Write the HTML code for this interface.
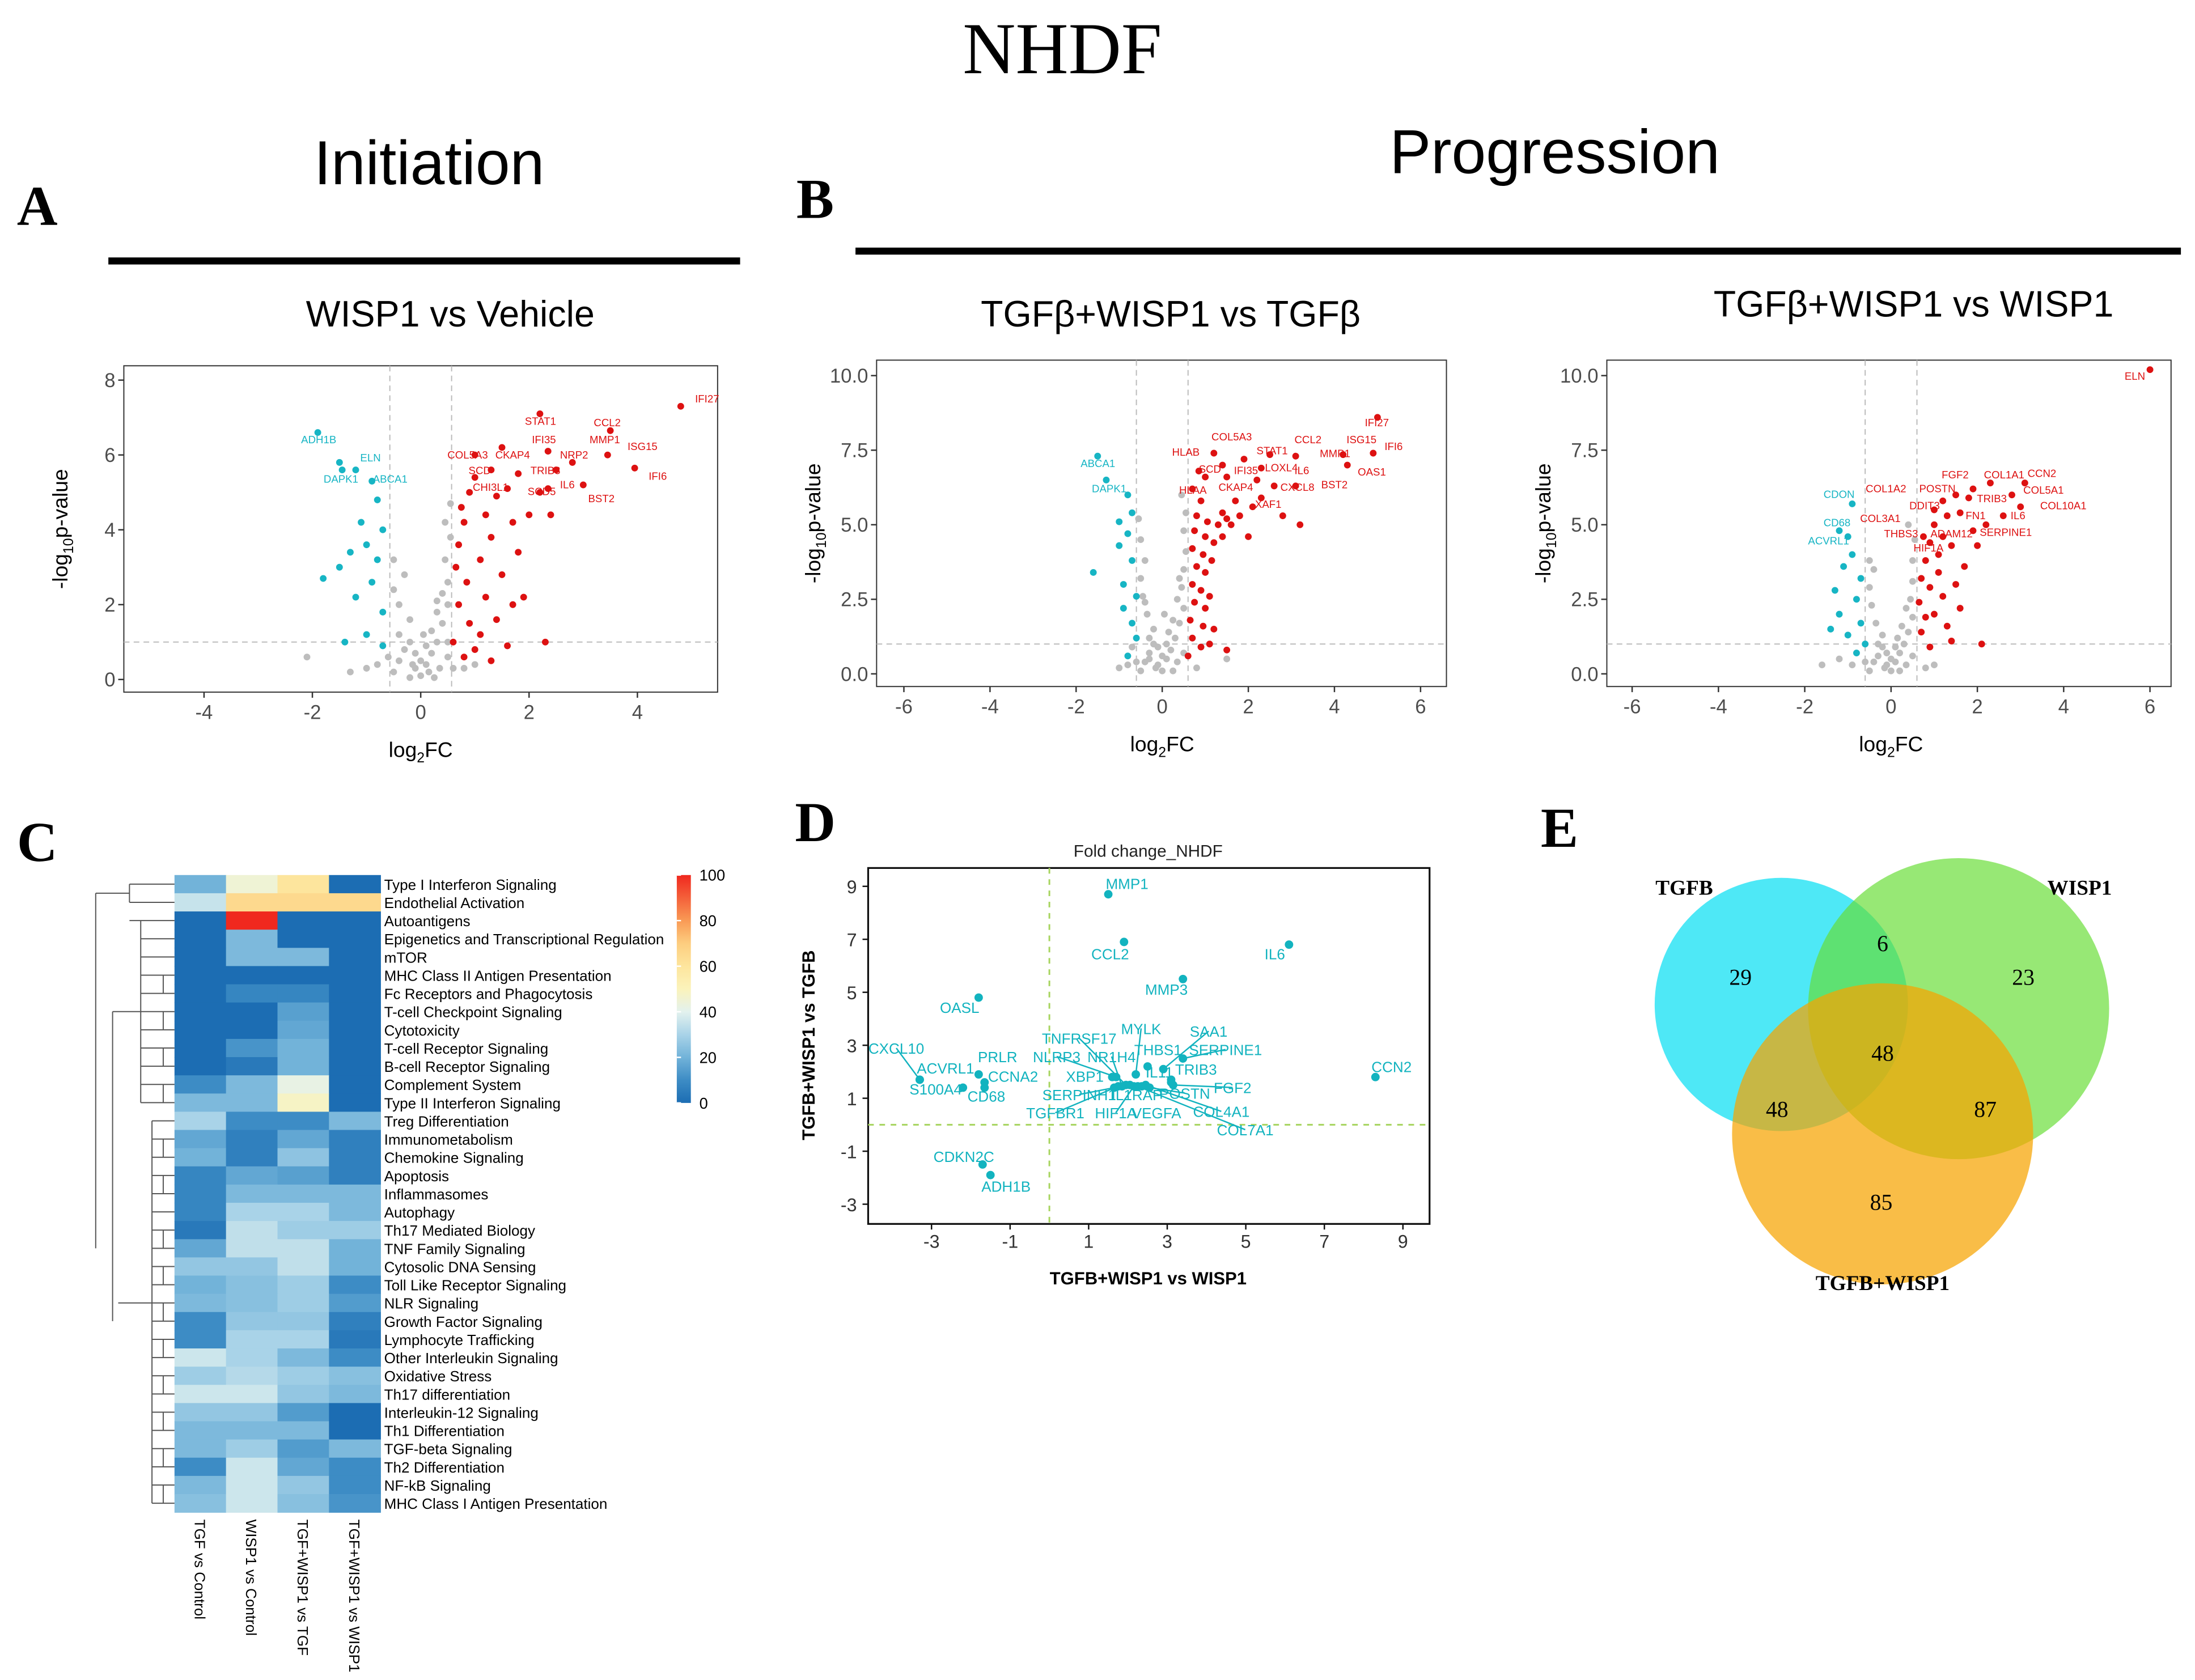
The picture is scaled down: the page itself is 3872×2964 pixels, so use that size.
<!DOCTYPE html>
<html><head><meta charset="utf-8"><style>
html,body{margin:0;padding:0;background:#fff;}
svg{display:block;}
text{font-family:"Liberation Sans",sans-serif;}
.serif{font-family:"Liberation Serif",serif;}
</style></head><body>
<svg id="fig" xmlns="http://www.w3.org/2000/svg" width="3872" height="2964" viewBox="0 0 1560 1194.2">
<rect x="0" y="0" width="1560" height="1195" fill="#fff"/>
<text class="serif" x="755" y="52" font-size="52" text-anchor="middle">NHDF</text>
<text x="305" y="131" font-size="44" text-anchor="middle">Initiation</text>
<text x="1105" y="123" font-size="44" text-anchor="middle">Progression</text>
<text class="serif" x="12" y="160" font-size="40" font-weight="bold">A</text>
<text class="serif" x="566" y="155" font-size="40" font-weight="bold">B</text>
<text class="serif" x="12" y="612" font-size="40" font-weight="bold">C</text>
<text class="serif" x="565" y="598" font-size="40" font-weight="bold">D</text>
<text class="serif" x="1095" y="602" font-size="40" font-weight="bold">E</text>
<rect x="77" y="183" width="449" height="5" fill="#000"/>
<rect x="608" y="176" width="942" height="5" fill="#000"/>
<text x="320" y="232" font-size="26" text-anchor="middle">WISP1 vs Vehicle</text>
<text x="832" y="232" font-size="26" text-anchor="middle">TGFβ+WISP1 vs TGFβ</text>
<text x="1360" y="225" font-size="26" text-anchor="middle">TGFβ+WISP1 vs WISP1</text>
</svg>
<script>
const NS='http://www.w3.org/2000/svg';
const svg=document.getElementById('fig');
function mk(tag,attrs,parent){const e=document.createElementNS(NS,tag);for(const k in attrs)e.setAttribute(k,attrs[k]);(parent||svg).appendChild(e);return e;}

// ---------- Volcano data ----------
const aGray=[[-0.5,0.2],[-0.4,0.5],[-0.3,0.8],[-0.2,1.0],[-0.1,0.3],[0,0.1],[0.1,0.4],[0.2,0.7],[0.3,1.0],[0.4,1.5],[0.5,2.0],[0.5,2.6],[0.45,3.2],[0.55,3.8],[0.4,2.3],[0.3,1.8],[0.2,1.3],[-0.2,1.6],[-0.4,2.0],[-0.5,2.4],[-0.3,2.8],[-0.5,3.2],[-0.4,1.2],[0.1,0.9],[0,0.5],[-0.1,0.7],[0.35,0.3],[0.5,0.6],[-0.6,0.6],[-0.8,0.4],[-1.0,0.3],[-2.1,0.6],[-1.3,0.2],[0.8,0.3],[1.0,0.4],[0.5,1.0],[0.3,2.1],[0.15,0.2],[-0.2,0.05],[0.25,0.05],[0.45,4.2],[0.55,4.7],[0.6,0.3],[-0.15,0.4],[0.05,1.2]];
const aRed=[[4.8,7.3],[3.5,6.65],[2.2,7.1],[3.45,6.0],[3.95,5.65],[2.35,6.1],[3.0,5.2],[2.35,5.1],[0.6,1.0],[0.7,2.0],[0.65,3.0],[0.7,3.6],[0.8,4.2],[0.75,4.6],[0.9,5.0],[1.0,5.4],[0.85,2.6],[0.9,1.5],[1.0,0.8],[1.1,1.2],[1.2,2.2],[1.1,3.2],[1.3,3.8],[1.2,4.4],[1.4,4.9],[1.3,5.6],[1.6,5.1],[1.5,2.8],[1.4,1.6],[1.6,0.9],[1.8,3.4],[1.9,2.2],[2.0,4.4],[2.2,5.0],[1.7,4.2],[1.8,5.5],[1.0,6.0],[1.5,6.2],[2.5,5.6],[2.8,5.8],[0.8,0.6],[1.3,0.5],[2.3,1.0],[1.7,2.0],[2.4,4.4]];
const aBlue=[[-1.9,6.6],[-1.5,5.8],[-1.45,5.6],[-1.2,5.6],[-0.9,5.3],[-0.8,4.8],[-1.1,4.2],[-1.0,3.6],[-1.3,3.4],[-0.8,3.2],[-1.5,3.0],[-0.9,2.6],[-1.2,2.2],[-0.7,1.8],[-1.0,1.2],[-1.4,1.0],[-0.7,0.9],[-1.8,2.7],[-0.7,4.0]];
const aLabels=[['IFI27',494,286,'r'],['STAT1',373,302,'r'],['CCL2',422,303,'r'],['IFI35',378,315,'r'],['MMP1',419,315,'r'],['ISG15',446,320,'r'],['COL5A3',318,326,'r'],['CKAP4',352,326,'r'],['NRP2',398,326,'r'],['SCD',333,337,'r'],['TRIB3',377,337,'r'],['IFI6',461,341,'r'],['IL6',398,347,'r'],['CHI3L1',336,349,'r'],['SCD5',375,352,'r'],['BST2',418,357,'r'],['ADH1B',214,315,'b'],['ELN',256,328,'b'],['DAPK1',230,343,'b'],['ABCA1',265,343,'b']];

const b1Gray=[[-0.5,0.1],[-0.4,0.4],[-0.3,0.7],[-0.2,1.0],[-0.1,0.3],[0,0.1],[0.1,0.5],[0.2,0.8],[0.3,1.2],[0.4,1.7],[0.5,2.2],[0.45,2.9],[0.5,3.5],[0.55,4.1],[0.5,4.8],[0.55,5.4],[0.4,3.2],[0.35,2.5],[0.25,1.8],[-0.2,1.5],[-0.35,2.0],[-0.45,2.6],[-0.5,3.2],[-0.4,3.8],[-0.5,4.5],[-0.55,5.2],[-0.3,1.2],[0.1,1.0],[0,0.6],[-0.1,0.9],[0.35,0.4],[0.5,0.7],[-0.6,0.4],[-0.8,0.3],[-1.0,0.2],[-0.7,0.9],[0.8,0.2],[1.5,0.5],[0.15,1.4],[-0.15,0.2],[0.25,0.1],[-0.4,2.4],[0.45,6.0],[-0.3,0.5],[0.05,2.0]];
const b1Red=[[5.0,8.6],[4.9,7.4],[4.2,7.35],[4.3,7.0],[3.1,7.3],[2.5,7.35],[1.9,7.2],[3.1,6.3],[2.6,6.3],[2.2,6.5],[1.4,7.0],[1.2,7.4],[1.5,6.6],[2.3,6.9],[1.7,5.8],[2.1,5.6],[2.3,5.9],[2.8,5.3],[3.2,5.0],[2.0,4.6],[1.5,5.2],[1.0,6.6],[0.6,0.6],[0.7,1.2],[0.65,1.8],[0.75,2.4],[0.7,3.0],[0.8,3.6],[0.7,4.2],[0.75,4.8],[0.8,5.3],[0.9,5.8],[0.7,6.2],[0.9,0.9],[0.95,1.6],[1.0,2.2],[0.9,2.8],[1.0,3.4],[0.95,4.0],[1.0,4.6],[1.05,5.1],[1.1,1.0],[1.1,2.6],[1.15,3.8],[1.2,4.4],[1.3,5.0],[1.2,1.5],[1.4,5.4],[1.6,5.0],[1.8,5.3],[1.4,4.6],[0.85,6.8],[1.5,0.8]];
const b1Blue=[[-1.5,7.3],[-1.3,6.5],[-0.8,6.0],[-0.7,5.4],[-1.0,5.1],[-0.8,4.7],[-1.0,4.3],[-0.7,3.8],[-1.6,3.4],[-0.9,3.0],[-0.6,2.6],[-0.9,2.2],[-0.7,1.7],[-0.6,1.2],[-0.8,0.6]];
const b1Labels=[['IFI27',970,303,'r'],['COL5A3',861,313,'r'],['CCL2',920,315,'r'],['ISG15',957,315,'r'],['IFI6',984,320,'r'],['HLAB',833,324,'r'],['STAT1',893,323,'r'],['MMP1',938,325,'r'],['SCD',852,336,'r'],['IFI35',877,337,'r'],['LOXL4',899,335,'r'],['IL6',920,337,'r'],['OAS1',965,338,'r'],['HLAA',838,351,'r'],['CKAP4',866,349,'r'],['CXCL8',910,349,'r'],['BST2',939,347,'r'],['XAF1',892,361,'r'],['ABCA1',768,332,'b'],['DAPK1',776,350,'b']];

const b2Gray=[[-0.5,0.1],[-0.4,0.4],[-0.3,0.6],[-0.2,0.9],[-0.1,0.3],[0,0.1],[0.1,0.4],[0.2,0.7],[0.3,1.0],[0.4,1.4],[0.5,1.9],[0.45,2.5],[0.5,3.1],[0.5,3.8],[0.55,4.5],[0.35,2.2],[0.25,1.6],[-0.2,1.3],[-0.35,1.7],[-0.45,2.3],[-0.5,2.9],[-0.4,3.5],[-0.3,1.0],[0.1,0.9],[0,0.5],[-0.1,0.7],[0.35,0.3],[0.5,0.6],[-0.6,0.4],[-0.9,0.3],[-1.2,0.5],[-1.6,0.3],[0.8,0.2],[1.0,0.3],[0.15,1.2],[-0.15,0.2],[0.2,0.1],[-0.5,3.8],[0.4,5.0]];
const b2Red=[[6.0,10.2],[2.3,6.4],[1.9,6.2],[3.1,6.4],[2.8,6.0],[3.0,5.6],[2.6,5.3],[1.9,4.8],[1.6,5.4],[1.8,5.9],[1.5,6.0],[1.2,5.8],[1.3,5.3],[1.0,5.0],[1.2,4.6],[1.4,4.3],[0.9,4.4],[0.8,3.8],[0.7,3.2],[0.9,2.9],[0.65,2.4],[0.8,1.9],[0.7,1.4],[0.9,0.9],[1.1,3.4],[1.2,2.6],[1.0,2.0],[1.3,1.6],[1.5,3.0],[1.6,2.2],[1.4,1.1],[2.0,4.3],[2.2,5.0],[1.7,3.6],[2.1,1.0],[1.1,4.0],[0.75,4.6],[1.0,5.5]];
const b2Blue=[[-0.9,5.7],[-1.2,4.8],[-1.0,4.6],[-0.9,4.0],[-1.1,3.6],[-0.7,3.2],[-1.3,2.8],[-0.8,2.5],[-1.2,2.0],[-0.7,1.7],[-1.0,1.3],[-0.6,1.0],[-0.8,0.7],[-1.4,1.5]];
const b2Labels=[['ELN',1510,270,'r'],['FGF2',1380,340,'r'],['COL1A1',1410,340,'r'],['CCN2',1441,339,'r'],['COL1A2',1326,350,'r'],['POSTN',1364,350,'r'],['COL5A1',1438,351,'r'],['DDIT3',1357,362,'r'],['TRIB3',1405,357,'r'],['COL10A1',1450,362,'r'],['COL3A1',1322,371,'r'],['FN1',1397,369,'r'],['IL6',1429,369,'r'],['THBS3',1339,382,'r'],['ADAM12',1372,382,'r'],['SERPINE1',1407,381,'r'],['HIF1A',1360,392,'r'],['CDON',1296,354,'b'],['CD68',1296,374,'b'],['ACVRL1',1285,387,'b']];

const aXTicks=[-4,-2,0,2,4], aYTicks=[0,2,4,6,8];
const bXTicks=[-6,-4,-2,0,2,4,6], bYTicks=[0,2.5,5,7.5,10];

function volcano(id,cfg,gray,red,blue,labels,xt,yt,fmt){
  const g=mk('g',{});
  
  
  const X=v=>cfg.x0+v*cfg.ux, Y=v=>cfg.y0-v*cfg.uy;
  const box=mk('rect',{x:cfg.bx,y:cfg.by,width:cfg.bw,height:cfg.bh,fill:'#fff',stroke:'#333','stroke-width':0.8},g);
  
  
  [[-cfg.th,0],[cfg.th,0]].forEach(t=>{const l=mk('line',{x1:X(t[0]),x2:X(t[0]),y1:cfg.by,y2:cfg.by+cfg.bh,stroke:'#bbb','stroke-dasharray':'4,3','stroke-width':0.8},g);
    
    });
  const h=mk('line',{x1:cfg.bx,x2:cfg.bx+cfg.bw,y1:Y(1),y2:Y(1),stroke:'#bbb','stroke-dasharray':'4,3','stroke-width':0.8},g);
  
  
  xt.forEach(v=>{mk('line',{x1:X(v),x2:X(v),y1:cfg.by+cfg.bh,y2:cfg.by+cfg.bh+4,stroke:'#333'},g);
    const t=mk('text',{x:X(v),y:cfg.by+cfg.bh+19,'font-size':14,'text-anchor':'middle',fill:'#4d4d4d'},g);t.textContent=v;
    
    });
  yt.forEach(v=>{mk('line',{x1:cfg.bx-4,x2:cfg.bx,y1:Y(v),y2:Y(v),stroke:'#333'},g);
    const t=mk('text',{x:cfg.bx-6,y:Y(v)+5,'font-size':14,'text-anchor':'end',fill:'#4d4d4d'},g);t.textContent=fmt(v);
    
    });
  const draw=(arr,col,name)=>arr.forEach(p=>{const c=mk('circle',{cx:X(p[0]),cy:Y(p[1]),r:2.4,fill:col},g);
    
    });
  draw(gray,'#bdbdbd','gene-point-ns');draw(blue,'#17b5c4','gene-point-down');draw(red,'#dd1111','gene-point-up');
  labels.forEach(L=>{const t=mk('text',{x:L[1],y:L[2],'font-size':7.5,fill:L[3]=='r'?'#dd1111':'#17b5c4'},g);t.textContent=L[0];
    
    });
  const xl=mk('text',{x:cfg.x0,y:cfg.by+cfg.bh+46,'font-size':15,'text-anchor':'middle'},g);
  xl.innerHTML='log<tspan font-size="10" dy="4">2</tspan><tspan dy="-4">FC</tspan>';
  
  
  const yl=mk('text',{x:0,y:0,'font-size':15,'text-anchor':'middle',transform:`translate(${cfg.bx-40},${cfg.by+cfg.bh/2}) rotate(-90)`},g);
  yl.innerHTML='-log<tspan font-size="10" dy="4">10</tspan><tspan dy="-4">p-value</tspan>';
  
  
}
volcano('volcano-a',{x0:299,ux:38.5,y0:483,uy:26.6,bx:88,by:260,bw:422,bh:232,th:0.57},aGray,aRed,aBlue,aLabels,aXTicks,aYTicks,v=>v);
volcano('volcano-b1',{x0:826,ux:30.6,y0:479,uy:21.2,bx:623,by:256,bw:405,bh:232,th:0.6},b1Gray,b1Red,b1Blue,b1Labels,bXTicks,bYTicks,v=>v.toFixed(1));
volcano('volcano-b2',{x0:1344,ux:30.67,y0:479,uy:21.2,bx:1142,by:256,bw:401,bh:232,th:0.6},b2Gray,b2Red,b2Blue,b2Labels,bXTicks,bYTicks,v=>v.toFixed(1));

// ---------- Heatmap ----------
const hmRows=['Type I Interferon Signaling','Endothelial Activation','Autoantigens','Epigenetics and Transcriptional Regulation','mTOR','MHC Class II Antigen Presentation','Fc Receptors and Phagocytosis','T-cell Checkpoint Signaling','Cytotoxicity','T-cell Receptor Signaling','B-cell Receptor Signaling','Complement System','Type II Interferon Signaling','Treg Differentiation','Immunometabolism','Chemokine Signaling','Apoptosis','Inflammasomes','Autophagy','Th17 Mediated Biology','TNF Family Signaling','Cytosolic DNA Sensing','Toll Like Receptor Signaling','NLR Signaling','Growth Factor Signaling','Lymphocyte Trafficking','Other Interleukin Signaling','Oxidative Stress','Th17 differentiation','Interleukin-12 Signaling','Th1 Differentiation','TGF-beta Signaling','Th2 Differentiation','NF-kB Signaling','MHC Class I Antigen Presentation'];
const hmCols=['TGF vs Control','WISP1 vs Control','TGF+WISP1 vs TGF','TGF+WISP1 vs WISP1'];
const hmVals=[[20,45,60,0],[35,65,65,65],[0,100,0,0],[0,22,0,0],[0,22,22,0],[0,0,0,0],[0,8,8,0],[0,0,15,0],[0,0,17,0],[0,12,20,0],[0,4,20,0],[10,22,42,0],[22,22,48,0],[30,10,10,22],[17,6,17,6],[20,6,25,6],[8,17,15,6],[8,22,22,22],[8,30,30,22],[4,34,28,28],[17,34,34,20],[26,26,34,20],[20,24,28,10],[22,24,28,14],[10,26,26,6],[10,30,30,4],[36,30,22,10],[28,32,28,24],[36,36,26,22],[26,26,14,0],[22,22,22,0],[22,28,14,22],[10,36,17,10],[22,36,26,10],[24,36,24,12]];
const cbTicks=[0,20,40,60,80,100];
const stops=[[0,[28,109,179]],[10,[61,140,197]],[20,[114,179,217]],[30,[169,211,232]],[40,[227,242,238]],[50,[251,243,187]],[60,[253,229,157]],[70,[253,205,127]],[80,[249,154,85]],[90,[244,96,58]],[100,[240,40,30]]];
function col(v){for(let i=0;i<stops.length-1;i++){const a=stops[i],b=stops[i+1];if(v<=b[0]){const t=(v-a[0])/(b[0]-a[0]);return 'rgb('+a[1].map((c,j)=>Math.round(c+(b[1][j]-c)*t)).join(',')+')';}}return 'rgb(240,40,30)';}
(function(){
  const g=mk('g',{});
  
  
  const x0=124,y0=622,cw=36.6,rh=(1075-622)/hmRows.length;
  hmVals.forEach((row,i)=>row.forEach((v,j)=>{const r=mk('rect',{x:x0+j*cw,y:y0+i*rh,width:cw+0.3,height:rh+0.3,fill:col(v)},g);
    
    }));
  hmRows.forEach((n,i)=>{const t=mk('text',{x:273,y:y0+i*rh+rh/2+4,'font-size':10.5},g);t.textContent=n;
    
    });
  hmCols.forEach((n,j)=>{const t=mk('text',{x:0,y:0,'font-size':10.5,transform:`translate(${x0+j*cw+cw/2-4},1080) rotate(90)`},g);t.textContent=n;
    
    });
  const yc=i=>y0+i*rh+rh/2;
  let d='';
  for(let i=0;i<hmRows.length;i++){d+=`M${i<3?92:(i<13?100:108)},${yc(i)}H124`;}
  d+=`M92,${yc(0)}V${yc(1)}M92,${yc(0.5)}H68M68,${yc(0.5)}V${yc(20)}`;
  d+=`M100,${yc(2)}V${yc(12)}M100,${yc(7)}H80M80,${yc(7)}V${yc(24)}`;
  d+=`M108,${yc(13)}V${yc(34)}M108,${yc(23)}H84`;
  [[5,6],[7,8],[9,10],[11,12],[14,15],[16,17],[19,20],[21,22],[23,24],[25,26],[27,28],[29,30],[31,32],[33,34]].forEach(p=>{d+=`M116,${yc(p[0])}V${yc(p[1])}`;});
  const dp=mk('path',{d:d,stroke:'#555','stroke-width':0.8,fill:'none'},g);
  
  
  const defs=mk('defs',{},g);
  const lg=mk('linearGradient',{id:'cb',x1:0,y1:1,x2:0,y2:0},defs);
  stops.forEach(s=>mk('stop',{offset:s[0]+'%','stop-color':col(s[0])},lg));
  const cb=mk('rect',{x:481,y:622,width:10,height:162,fill:'url(#cb)'},g);
  
  
  cbTicks.forEach(v=>{const yy=784-v/100*162;mk('line',{x1:481,x2:484,y1:yy,y2:yy,stroke:'#fff'},g);
    const t=mk('text',{x:497,y:yy+4,'font-size':11},g);t.textContent=v;
    
    });
})();

// ---------- Scatter D ----------
const dGenes=['MMP1','CCL2','IL6','MMP3','OASL','CXCL10','ACVRL1','PRLR','CCNA2','CD68','CCN2','SERPINE1','SAA1','THBS1','MYLK','IL11','FGF2','XBP1','NLRP3','NR1H4','TNFRSF17','SERPINH1','IL1RAP','TGFBR1','HIF1A','VEGFA','POSTN','COL4A1','COL7A1','TRIB3','S100A4','CDKN2C','ADH1B'];
const dX=[1.5,1.9,6.1,3.4,-1.8,-3.3,-2.2,-1.8,-1.65,-1.65,8.3,3.4,2.9,2.5,2.2,3.1,3.15,1.6,1.7,1.85,1.95,1.65,2.05,1.75,2.15,2.35,2.55,2.45,2.25,3.1,-3.3,-1.7,-1.5];
const dY=[8.7,6.9,6.8,5.5,4.8,1.7,1.4,1.9,1.6,1.4,1.8,2.5,2.1,2.2,1.9,1.7,1.5,1.8,1.8,1.45,1.5,1.4,1.5,1.45,1.45,1.45,1.4,1.5,1.45,1.6,1.7,-1.5,-1.9];
const dLabelPos=[[801,632],[789,682],[906,682],[829,707],[682,720],[637,749],[672,763],[709,755],[720,769],[701,783],[989,762],[871,750],[859,737],[823,750],[811,735],[824,766],[876,777],[771,769],[751,755],[790,755],[767,742],[767,782],[808,782],[750,795],[793,795],[822,795],[842,781],[868,794],[885,807],[850,764],[665,778],[685,826],[715,847]];
const dXTicks=[-3,-1,1,3,5,7,9], dYTicks=[9,7,5,3,1,-1,-3];
(function(){
  const g=mk('g',{});
  
  
  const X=v=>745.8+v*27.92, Y=v=>799.5-v*18.83;
  const bx=617,by=617,bw=399,bh=253;
  const t0=mk('text',{x:816,y:609,'font-size':12,'text-anchor':'middle',fill:'#222'},g);t0.textContent='Fold change_NHDF';
  
  
  const box=mk('rect',{x:bx,y:by,width:bw,height:bh,fill:'#fff',stroke:'#111','stroke-width':1.3},g);
  
  
  const vl=mk('line',{x1:X(0),x2:X(0),y1:by,y2:by+bh,stroke:'#a6d45e','stroke-dasharray':'4,4','stroke-width':1.2},g);
  
  
  const hl=mk('line',{x1:bx,x2:bx+bw,y1:Y(0),y2:Y(0),stroke:'#a6d45e','stroke-dasharray':'4,4','stroke-width':1.2},g);
  
  
  dXTicks.forEach(v=>{mk('line',{x1:X(v),x2:X(v),y1:by+bh,y2:by+bh+4,stroke:'#111'},g);
    const t=mk('text',{x:X(v),y:by+bh+17,'font-size':13,'text-anchor':'middle',fill:'#333'},g);t.textContent=v;
    
    });
  dYTicks.forEach(v=>{mk('line',{x1:bx-4,x2:bx,y1:Y(v),y2:Y(v),stroke:'#111'},g);
    const t=mk('text',{x:bx-8,y:Y(v)+5,'font-size':13,'text-anchor':'end',fill:'#333'},g);t.textContent=v;
    
    });
  dGenes.forEach((n,i)=>{
    const c=mk('circle',{cx:X(dX[i]),cy:Y(dY[i]),r:3,fill:'#12b3bf'},g);
    
    
    const L=dLabelPos[i];
    const t=mk('text',{x:L[0],y:L[1],'font-size':10.5,'text-anchor':'middle',fill:'#12b3bf'},g);t.textContent=n;
    
    
    const dx=X(dX[i])-L[0],dy=Y(dY[i])-(L[1]-4);
    if(Math.hypot(dx,dy)>22){const ln=mk('line',{x1:L[0],y1:L[1]-4,x2:X(dX[i]),y2:Y(dY[i]),stroke:'#12b3bf','stroke-width':1},g);
      
      }
  });
  const xt=mk('text',{x:816,y:913,'font-size':12.5,'font-weight':'bold','text-anchor':'middle'},g);xt.textContent='TGFB+WISP1 vs WISP1';
  
  
  const yt=mk('text',{x:0,y:0,'font-size':12.5,'font-weight':'bold','text-anchor':'middle',transform:'translate(579,743) rotate(-90)'},g);yt.textContent='TGFB+WISP1 vs TGFB';
  
  
})();

// ---------- Venn E ----------
const vennSets=['TGFB','WISP1','TGFB+WISP1'];
const vennCounts=[29,6,23,48,48,87,85];
(function(){
  const g=mk('g',{});
  
  
  const circles=[[1266,714,90,'#4ee8f6',1],[1392,717,107,'#66dd33',0.68],[1338,806,107,'#f7a300',0.72]];
  circles.forEach((c,i)=>{const e=mk('circle',{cx:c[0],cy:c[1],r:c[2],fill:c[3],'fill-opacity':c[4]},g);
    
    });
  const lp=[[1197,636],[1478,636],[1338,917]];
  vennSets.forEach((n,i)=>{const t=mk('text',{class:'serif',x:lp[i][0],y:lp[i][1],'font-size':15,'font-weight':'bold','text-anchor':'middle'},g);t.textContent=n;
    
    });
  const np=[[1237,700],[1338,676],[1438,700],[1338,754],[1263,794],[1411,794],[1337,860]];
  vennCounts.forEach((n,i)=>{const t=mk('text',{class:'serif',x:np[i][0],y:np[i][1],'font-size':16,'text-anchor':'middle'},g);t.textContent=n;
    
    });
})();
</script>
</body></html>
